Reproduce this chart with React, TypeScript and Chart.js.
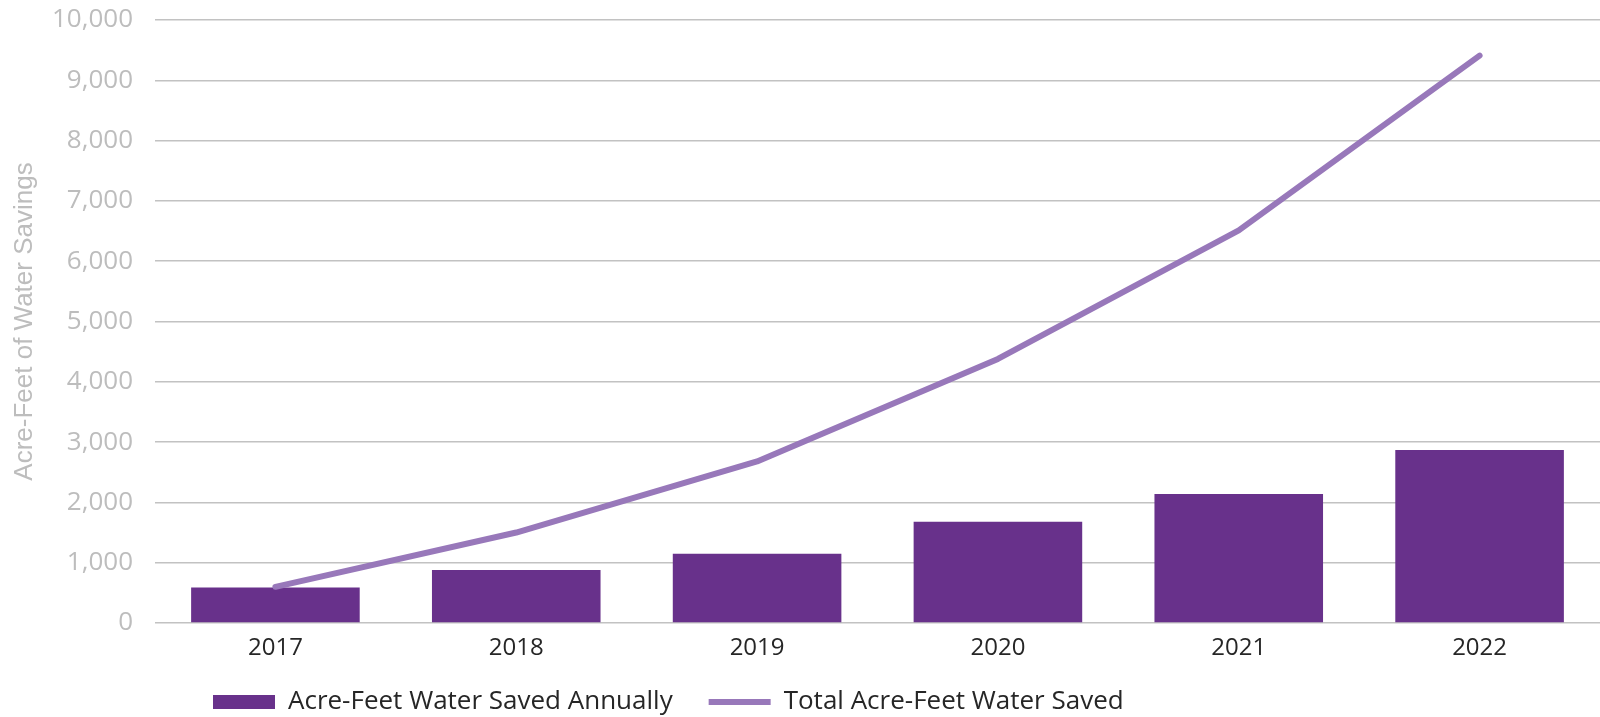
import React, { useEffect, useRef } from 'react';
import { Chart, registerables } from 'chart.js';

Chart.register(...registerables);

const years = ['2017', '2018', '2019', '2020', '2021', '2022'];
const annualSaved = [590, 880, 1150, 1680, 2140, 2870];
const totalSaved = [600, 1500, 2680, 4380, 6510, 9410];
const seriesNames = ['Acre-Feet Water Saved Annually', 'Total Acre-Feet Water Saved'];
const yAxisTitle = 'Acre-Feet of Water Savings';
const yMin = 0;
const yMax = 10000;
const yStep = 1000;

const BAR_COLOR = '#68318B';
const LINE_COLOR = '#9878BA';
const GRID_COLOR = '#C2C2C2';
const TICK_GREY = '#BDBDBD';
const DARK_TEXT = '#262626';

const LEGEND_LEFT = 213;
const LEGEND_CENTER_Y = 702;
const LEGEND_FONT = 26;

const legendPlacer = {
  id: 'legendPlacer',
  afterLayout(chart: any) {
    const lg = chart.legend;
    if (!lg) return;
    const pad = lg.options.labels.padding;
    lg.left = LEGEND_LEFT - pad;
    lg.right = chart.width;
    lg.width = lg.right - lg.left;
    lg.top = LEGEND_CENTER_Y - pad - LEGEND_FONT / 2;
    lg.bottom = chart.height;
    lg.height = lg.bottom - lg.top;
  },
};

export default function App() {
  const canvasRef = useRef<HTMLCanvasElement | null>(null);

  useEffect(() => {
    if (!canvasRef.current) return;
    const chart = new Chart(canvasRef.current, {
      type: 'bar',
      data: {
        labels: years,
        datasets: [
          {
            type: 'bar',
            label: seriesNames[0],
            data: annualSaved,
            backgroundColor: BAR_COLOR,
            borderWidth: 0,
            barPercentage: 0.7,
            categoryPercentage: 1.0,
            order: 1,
            pointStyle: 'rect',
          } as any,
          {
            type: 'line',
            label: seriesNames[1],
            data: totalSaved,
            borderColor: LINE_COLOR,
            backgroundColor: LINE_COLOR,
            borderWidth: 6,
            pointRadius: 0,
            pointHoverRadius: 0,
            tension: 0,
            borderCapStyle: 'round',
            borderJoinStyle: 'round',
            fill: false,
            order: 0,
            pointStyle: 'line',
          } as any,
        ],
      },
      options: {
        responsive: false,
        animation: false,
        devicePixelRatio: 1,
        layout: { padding: { top: 20, left: 0, right: 0, bottom: 0 } },
        plugins: {
          tooltip: { enabled: false },
          legend: {
            display: true,
            position: 'bottom',
            align: 'start',
            maxHeight: 40,
            labels: {
              usePointStyle: true,
              pointStyleWidth: 62,
              boxHeight: 14,
              padding: 36,
              color: DARK_TEXT,
              font: { family: "'Open Sans', sans-serif", size: LEGEND_FONT },
              sort: (a: any, b: any) => a.datasetIndex - b.datasetIndex,
            },
          } as any,
        },
        scales: {
          x: {
            grid: { display: false, drawTicks: false },
            border: { display: false },
            ticks: {
              color: DARK_TEXT,
              padding: 11,
              font: { family: "'Open Sans', sans-serif", size: 24 },
            },
            afterFit: (scale: any) => {
              scale.height = 54;
            },
          },
          y: {
            min: yMin,
            max: yMax,
            grid: { color: GRID_COLOR, lineWidth: 1.5, drawTicks: false },
            border: { display: false },
            ticks: {
              stepSize: yStep,
              color: TICK_GREY,
              padding: 22,
              font: { family: "'Open Sans', sans-serif", size: 26 },
              callback: (v: any) => Number(v).toLocaleString('en-US'),
            },
            title: {
              display: true,
              text: yAxisTitle,
              color: TICK_GREY,
              padding: { top: 9, bottom: 0 },
              font: { family: "'Liberation Sans', Arial, sans-serif", size: 26 },
            },
            afterFit: (scale: any) => {
              scale.width = 155;
              scale.paddingTop = 0;
              scale.paddingBottom = 0;
            },
          },
        },
      } as any,
      plugins: [legendPlacer],
    });
    return () => chart.destroy();
  }, []);

  return (
    <div style={{ position: 'absolute', left: 0, top: 0, width: 1600, height: 717, background: '#fff' }}>
      <canvas ref={canvasRef} width={1600} height={717} style={{ display: 'block' }} />
    </div>
  );
}
